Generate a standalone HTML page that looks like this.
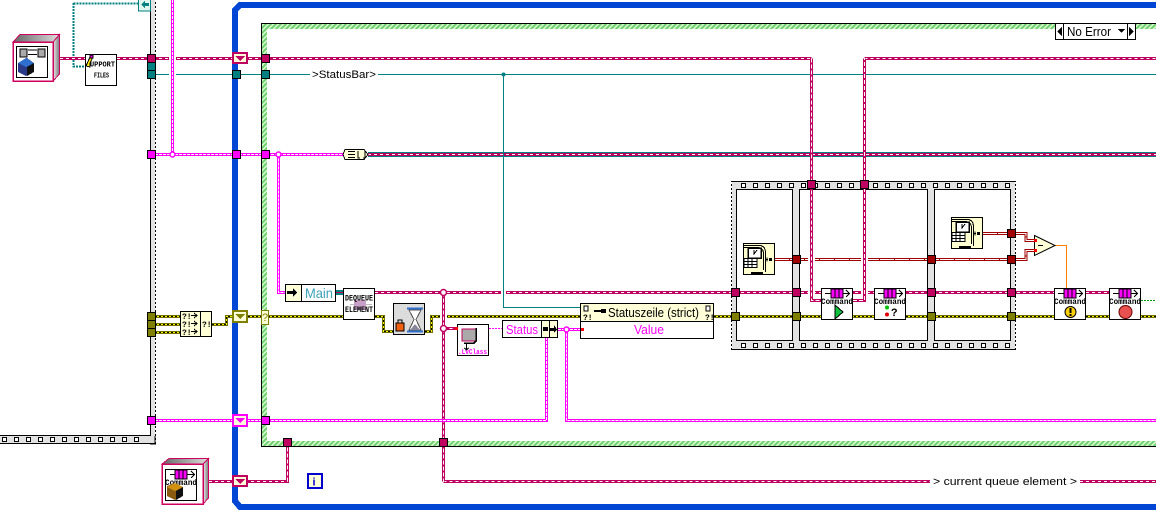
<!DOCTYPE html>
<html><head><meta charset="utf-8"><style>
html,body{margin:0;padding:0;background:#fff;width:1156px;height:519px;overflow:hidden}
svg{display:block}
text{font-family:"Liberation Sans",sans-serif}
.m{font-family:"Liberation Mono",monospace;font-weight:bold}
.p{fill:none;stroke:#c00060;stroke-width:3}.pi{fill:none;stroke:#fff;stroke-width:1;stroke-dasharray:3 3}
.pv{fill:none;stroke:#fff;stroke-width:1;stroke-dasharray:4 2}
.g{fill:none;stroke:#ff00ff;stroke-width:3}.gi{fill:none;stroke:#fff;stroke-width:1;stroke-dasharray:3 1}
.y{fill:none;stroke:#707000;stroke-width:3}.yi{fill:none;stroke:#ffff00;stroke-width:1}.yd{fill:none;stroke:#000;stroke-width:1;stroke-dasharray:2 2}
.r{fill:none;stroke:#a00000;stroke-width:3}.ri{fill:none;stroke:#fff;stroke-width:1;stroke-dasharray:14 1}
.t{fill:none;stroke:#008080;stroke-width:1}
.b{stroke:#000;stroke-width:1}
</style></head><body>
<svg width="1156" height="519" viewBox="0 0 1156 519" xmlns="http://www.w3.org/2000/svg" shape-rendering="crispEdges">
<defs>
<pattern id="h" width="5" height="5" patternUnits="userSpaceOnUse"><rect width="5" height="5" fill="#d8f8d0"/><path d="M0 5L5 0M-1 1L1 -1M4 6L6 4" stroke="#6fd06f" stroke-width="2" shape-rendering="auto"/></pattern>
<pattern id="fs" x="741" y="183" width="12" height="160" patternUnits="userSpaceOnUse"><rect x="0.5" y="0.5" width="4" height="4" fill="#fff" stroke="#000"/></pattern>
<pattern id="fl" x="2" y="437" width="12" height="8" patternUnits="userSpaceOnUse"><rect x="0.5" y="0.5" width="4" height="4" fill="#fff" stroke="#000"/></pattern>
<linearGradient id="sd" x1="0" x2="1" y1="0" y2="0"><stop offset="0" stop-color="#eee"/><stop offset="1" stop-color="#777"/></linearGradient>
<linearGradient id="tp" x1="0" x2="1" y1="0" y2="0"><stop offset="0" stop-color="#666"/><stop offset="1" stop-color="#ddd"/></linearGradient>
</defs>

<!-- left sequence frame -->
<rect x="150.5" y="-1" width="5" height="445" fill="#e2e2e2" stroke="#000"/>
<line x1="155.5" y1="0" x2="155.5" y2="444" stroke="#fff" stroke-dasharray="2 2"/>
<rect x="-2" y="435.5" width="157" height="8" fill="#e2e2e2" stroke="#000"/>
<rect x="0" y="437" width="146" height="5" fill="url(#fl)"/>
<rect x="151" y="432" width="4" height="4" fill="#e2e2e2"/>

<!-- while loop -->
<path d="M1156 5H240L235 10V501L240 507H1156" fill="none" stroke="#0046d5" stroke-width="6"/>

<!-- case structure -->
<rect x="261.5" y="23.5" width="900" height="423" fill="url(#h)" stroke="#000"/>
<rect x="267" y="29" width="900" height="412" fill="#fff"/>
<line x1="261" y1="23.5" x2="1156" y2="23.5" stroke="#000"/>

<!-- flat sequence frame -->
<rect x="731.5" y="181.5" width="284" height="168" fill="#e2e2e2" stroke="#000"/>
<path d="M731.5 182V349M1015.5 182V349" stroke="#fff" stroke-dasharray="2 2"/>
<rect x="741" y="183" width="270" height="5" fill="url(#fs)"/>
<rect x="741" y="343" width="270" height="5" fill="url(#fs)"/>
<rect x="736.5" y="189.5" width="56" height="151" fill="#fff" stroke="#000"/>
<rect x="799.5" y="189.5" width="128" height="151" fill="#fff" stroke="#000"/>
<rect x="934.5" y="189.5" width="76" height="151" fill="#fff" stroke="#000"/>

<!-- thin teal wires -->
<path class="t" d="M155 74.5H310M378 74.5H1156"/>
<path d="M73.5 3.5H138M73.5 3V66.5H85" fill="none" stroke="#008080" stroke-width="2" stroke-dasharray="2 1"/>
<rect x="368" y="152" width="788" height="5" fill="#008080"/>

<!-- dark red wires -->
<path class="r" d="M775 259.5H1011M1015 259.5H1026V250.5H1034M983 233.5H1011M1015 233.5H1026V240.5H1034"/>
<path class="ri" d="M775 259.5H1011M1015 259.5H1026V250.5H1034M983 233.5H1011M1015 233.5H1026V240.5H1034"/>
<rect x="808" y="256" width="7" height="7" fill="#fff"/><rect x="861" y="256" width="7" height="7" fill="#fff"/>

<!-- yellow wires -->
<path class="y" d="M155 316.5H180M155 324.5H180M155 332.5H180M212 324.5H226.5V316.5H343M375 316.5H383.5V331.5H393M425 331.5H431.5V316.5H580M714 316.5H1156"/>
<path class="yi" d="M155 316.5H180M155 324.5H180M155 332.5H180M212 324.5H226.5V316.5H343M375 316.5H383.5V331.5H393M425 331.5H431.5V316.5H580M714 316.5H1156"/>
<path class="yd" d="M155 316.5H180M155 324.5H180M155 332.5H180M212 324.5H226.5V316.5H343M375 316.5H383.5V331.5H393M425 331.5H431.5V316.5H580M714 316.5H1156"/>
<rect x="440" y="314" width="7" height="5" fill="#fff"/>

<!-- pink class wires -->
<path class="p" d="M60 58.5H85M117 58.5H811.5M864.5 58.5H1156M375 292.5H1054M1086 292.5H1109M443.5 328.5H457M209 481.5H287.5V441.5M443.5 481.5H930M1080 481.5H1156"/>
<path class="pi" d="M60 58.5H85M117 58.5H811.5M864.5 58.5H1156M375 292.5H1054M1086 292.5H1109M443.5 328.5H457M209 481.5H287.5M443.5 481.5H930M1080 481.5H1156"/>
<path d="M368 154.5H1156" fill="none" stroke="#c00060" stroke-width="3"/>
<path class="pi" d="M368 154.5H1156"/>
<rect x="808" y="289" width="7" height="7" fill="#fff"/><rect x="861" y="289" width="7" height="7" fill="#fff"/>
<rect x="501" y="290" width="5" height="5" fill="#fff"/>
<path class="p" d="M811.5 58.5V300.5H821M853 300.5H864.5V58.5M443.5 292.5V481.5"/>
<path class="pv" d="M811.5 58.5V300.5H821M853 300.5H864.5V58.5M443.5 292.5V481.5M287.5 481.5V441.5"/>
<circle cx="443.5" cy="292.5" r="3" fill="#fff" stroke="#c00060" stroke-width="1.5" shape-rendering="auto"/>
<circle cx="443.5" cy="328.5" r="3" fill="#fff" stroke="#c00060" stroke-width="1.5" shape-rendering="auto"/>
<path class="t" d="M503.5 74.5V307.5H580"/>
<circle cx="503.5" cy="74.5" r="2" fill="#008080" shape-rendering="auto"/>

<!-- magenta wires -->
<rect x="169" y="55" width="7" height="7" fill="#fff"/><rect x="169" y="72" width="7" height="5" fill="#fff"/>
<path class="g" d="M172.5 0V154.5M155 154.5H345M278.5 154.5V292.5H285M155 420.5H546.5V338M566.5 329.5V420.5H1156M558 329.5H581"/>
<path class="gi" d="M172.5 0V154.5M155 154.5H345M278.5 154.5V292.5H285M155 420.5H546.5V338M566.5 329.5V420.5H1156M558 329.5H581"/>
<path d="M489 328.5H502" stroke="#ff00ff" stroke-dasharray="2 1" fill="none"/>
<circle cx="172.5" cy="154.5" r="2.5" fill="#fff" stroke="#ff00ff" stroke-width="1.5" shape-rendering="auto"/>
<circle cx="278.5" cy="154.5" r="2.5" fill="#fff" stroke="#ff00ff" stroke-width="1.5" shape-rendering="auto"/>
<circle cx="566.5" cy="329.5" r="2.5" fill="#fff" stroke="#ff00ff" stroke-width="1.5" shape-rendering="auto"/>

<!-- orange and green -->
<path d="M1055 245.5H1066.5V288" fill="none" stroke="#ff8000"/>
<path d="M1141 300.5H1156" stroke="#00a000" stroke-dasharray="2 1" fill="none"/>

<!-- tunnels -->
<g class="b" fill="#c00060">
<rect x="147.5" y="54.5" width="8" height="8"/><rect x="261.5" y="54.5" width="8" height="8"/>
<rect x="807.5" y="180.5" width="8" height="8"/><rect x="860.5" y="180.5" width="8" height="8"/>
<rect x="731.5" y="288.5" width="8" height="8"/><rect x="792.5" y="288.5" width="8" height="8"/>
<rect x="927.5" y="288.5" width="8" height="8"/><rect x="1007.5" y="288.5" width="8" height="8"/>
<rect x="283.5" y="438.5" width="8" height="8"/><rect x="439.5" y="438.5" width="8" height="8"/>
</g>
<g class="b" fill="#008080">
<rect x="147.5" y="62.5" width="8" height="8"/><rect x="147.5" y="70.5" width="8" height="8"/>
<rect x="232.5" y="70.5" width="8" height="8"/><rect x="261.5" y="70.5" width="8" height="8"/>
</g>
<g class="b" fill="#ff00ff">
<rect x="147.5" y="150.5" width="8" height="8"/><rect x="232.5" y="150.5" width="8" height="8"/><rect x="261.5" y="150.5" width="8" height="8"/>
<rect x="147.5" y="416.5" width="8" height="8"/><rect x="261.5" y="416.5" width="8" height="8"/>
</g>
<g class="b" fill="#808000">
<rect x="147.5" y="312.5" width="8" height="8"/><rect x="147.5" y="320.5" width="8" height="8"/><rect x="147.5" y="328.5" width="8" height="8"/>
<rect x="731.5" y="312.5" width="8" height="8"/><rect x="792.5" y="312.5" width="8" height="8"/>
<rect x="927.5" y="312.5" width="8" height="8"/><rect x="1007.5" y="312.5" width="8" height="8"/>
</g>
<g class="b" fill="#a00000">
<rect x="792.5" y="255.5" width="8" height="8"/><rect x="927.5" y="255.5" width="8" height="8"/>
<rect x="1007.5" y="229.5" width="8" height="8"/><rect x="1007.5" y="255.5" width="8" height="8"/>
</g>

<!-- shift registers -->
<g fill="#ffffd8" stroke-width="2">
<rect x="233" y="53" width="14" height="10" stroke="#c00060"/><path d="M235 56H245L240 61Z" fill="#c00060" stroke="none"/>
<rect x="233" y="311" width="14" height="11" stroke="#808000"/><path d="M235 314H245L240 319Z" fill="#808000" stroke="none"/>
<rect x="233" y="415" width="14" height="11" stroke="#ff00ff"/><path d="M235 418H245L240 423Z" fill="#ff00ff" stroke="none"/>
<rect x="233" y="476" width="14" height="10" stroke="#c00060"/><path d="M235 479H245L240 484Z" fill="#c00060" stroke="none"/>
</g>
<rect x="261.5" y="310.5" width="7" height="14" fill="#ffffd8" stroke="#808000"/>
<text x="262" y="321" font-size="11" fill="#808000">?</text>

<!-- feedback node -->
<rect x="138.5" y="-2" width="12" height="13" fill="#e0f5ee" stroke="#008080"/>
<path d="M141 4.5L145 1V3H149V6H145V8Z" fill="#008080"/>

<!-- top left class icon -->
<path d="M13 42L20 34.5H59.5L53 42Z" fill="url(#tp)" stroke="#d0005f"/>
<path d="M53 42L59.5 34.5V74L53 81Z" fill="url(#sd)" stroke="#d0005f"/>
<rect x="13" y="42" width="40" height="39" fill="#fff" stroke="#d0005f" stroke-width="1.5"/>
<rect x="16.5" y="46.5" width="31" height="31" fill="#fff" stroke="#000"/>
<rect x="20" y="49" width="7" height="8" fill="#aaa" stroke="#000"/><rect x="38" y="49" width="7" height="8" fill="#aaa" stroke="#000"/>
<path d="M28 50H37M28 54.5H37" stroke="#000"/>
<path d="M18 63L27 58L34 63V72L26 76L18 72Z" fill="#2a3a88"/>
<path d="M18 63L26 58L34 63L26 67Z" fill="#2f6fd0"/><path d="M27 67L34 63V72L27 76Z" fill="#111"/>

<!-- support files -->
<rect x="85.5" y="54.5" width="31" height="31" fill="#fff" stroke="#000"/>
<path d="M86 66L90 57H93L90 63V67Z" fill="#ffe800" stroke="#000"/><path d="M90 55H93L93 58L90 58Z" fill="#ff00ff" stroke="#000"/>
<text class="m" x="90" y="66.5" font-size="7.5" textLength="25" lengthAdjust="spacingAndGlyphs">UPPORT</text>
<text class="m" x="94" y="77.5" font-size="7.5" textLength="15" lengthAdjust="spacingAndGlyphs">FILES</text>

<!-- array build small -->
<path d="M345 149.5H364L368 154.5L364 159.5H345L343 154.5Z" fill="#ffffd8" stroke="#000"/>
<path d="M348 151.5H355M348 154.5H355M348 157.5H355M358 151V158H360M365 151V158H363" fill="none" stroke="#000" stroke-width="1.2"/>

<!-- merge errors -->
<rect x="180.5" y="311.5" width="31" height="25" fill="#ffffd8" stroke="#000"/>
<line x1="200.5" y1="311" x2="200.5" y2="337" stroke="#000"/>
<text class="m" x="182" y="319" font-size="8">?!</text><text class="m" x="182" y="327" font-size="8">?!</text><text class="m" x="182" y="335" font-size="8">?!</text>
<text class="m" x="202" y="327" font-size="8">?!</text>
<path d="M191 315.5H197M194 313L197 315.5L194 318M191 323.5H197M194 321L197 323.5L194 326M191 331.5H197M194 329L197 331.5L194 334" fill="none" stroke="#000"/>

<!-- Main -->
<rect x="285.5" y="284.5" width="50" height="17" fill="#fff" stroke="#000"/>
<rect x="286" y="285" width="16" height="16" fill="#ffffd8"/>
<line x1="301.5" y1="285" x2="301.5" y2="301" stroke="#000"/>
<path d="M287 291H293V288L297 292.5L293 297V294H287Z" fill="#000"/>
<text x="305" y="298" font-size="14" fill="#3aa0b8" textLength="28" lengthAdjust="spacingAndGlyphs">Main</text>
<rect x="336" y="290" width="7" height="5" fill="#008080"/><rect x="336" y="292" width="7" height="1" fill="#c00060"/>

<!-- dequeue -->
<rect x="343.5" y="288.5" width="31" height="31" fill="#fff" stroke="#000"/>
<path d="M350 304.5H372" stroke="#bbb"/>
<rect x="354" y="300" width="12" height="10" fill="#c8a0c8"/>
<text class="m" x="345" y="300.5" font-size="8" textLength="28" lengthAdjust="spacingAndGlyphs">DEQUEUE</text>
<text class="m" x="345" y="312" font-size="8" textLength="28" lengthAdjust="spacingAndGlyphs">ELEMENT</text>

<!-- wait with lock -->
<rect x="393.5" y="303.5" width="31" height="31" fill="#dcdcdc" stroke="#000"/>
<path d="M407 308.5H423M407 331.5H423" stroke="#2f6fd0" stroke-width="2"/>
<path d="M409 310H421L416 319.5L421 330H409L414 319.5Z" fill="#fff" stroke="#555"/>
<path d="M410 330L415 324L420 330Z" fill="#889"/>
<rect x="396" y="323" width="8" height="8" fill="#f06010" stroke="#000"/>
<path d="M398 323V320H402V323" fill="none" stroke="#000"/>

<!-- class node -->
<rect x="457.5" y="324.5" width="31" height="31" fill="#fff" stroke="#000"/>
<path d="M462 329H476V341H462Z" fill="#aaa" stroke="#c00060"/><path d="M476 328V341L474 343H464" fill="none" stroke="#000" stroke-width="1.5"/>
<path d="M466.5 344V350M464.5 348L466.5 350L468.5 348" fill="none" stroke="#000"/>
<text class="m" x="458" y="354" font-size="7" fill="#ff00ff" textLength="29" lengthAdjust="spacingAndGlyphs">.LvClass</text>
<rect x="455" y="327" width="3" height="3" fill="#f00"/>

<!-- Status -->
<rect x="502.5" y="320.5" width="55" height="17" fill="#fff" stroke="#000"/>
<rect x="541" y="321" width="16" height="16" fill="#ffffd8"/>
<path d="M541.5 320V338M549.5 320V338" stroke="#000"/>
<text x="506" y="334" font-size="13" fill="#ff00ff" textLength="32" lengthAdjust="spacingAndGlyphs">Status</text>
<path d="M543 327H548V331H543ZM550 328H554V325L557 329.5L554 333V331H550Z" fill="#000"/>

<!-- property node -->
<rect x="580.5" y="303.5" width="133" height="35" fill="#fff" stroke="#000"/>
<rect x="581" y="304" width="132" height="18" fill="#ffffd8"/>
<line x1="580" y1="321.5" x2="714" y2="321.5" stroke="#000"/>
<text x="608" y="317" font-size="13" fill="#000" textLength="91" lengthAdjust="spacingAndGlyphs">Statuszeile (strict)</text>
<path d="M594 311H602" stroke="#000" stroke-width="2"/><rect x="601" y="309" width="5" height="4" fill="#000"/>
<rect x="584" y="306" width="4" height="5" fill="#fff" stroke="#000"/><rect x="706" y="306" width="4" height="5" fill="#fff" stroke="#000"/>
<text class="m" x="583" y="320" font-size="8">?!</text><text class="m" x="705" y="320" font-size="8">?!</text>
<text x="634" y="334" font-size="13" fill="#ff00ff" textLength="30" lengthAdjust="spacingAndGlyphs">Value</text>
<rect x="581" y="328" width="3" height="3" fill="#f00"/>

<!-- calendar icons -->
<g>
<rect x="743.5" y="243.5" width="31" height="31" fill="#ffffd0" stroke="#000"/>
<path d="M744 245.5H760Q765 246 765.5 252V272M744 247.5H758Q763 248 763.5 253V270" fill="none" stroke="#000"/>
<rect x="748" y="248" width="13" height="10" fill="#fff" stroke="#000" stroke-width="1.5"/>
<path d="M754 250V254L757 250" fill="none" stroke="#000"/>
<path d="M744 258.5H757V267.5H744ZM744 261.5H757M744 264.5H757M748 259V267M752 259V267" fill="#fff" stroke="#000"/>
<rect x="751" y="272" width="12" height="2" fill="#000"/>
<path d="M765 259.5H768M767 257.5V261.5" stroke="#000"/><rect x="769" y="258" width="3" height="3" fill="#000"/>
</g>
<g transform="translate(208,-26)">
<rect x="743.5" y="243.5" width="31" height="31" fill="#ffffd0" stroke="#000"/>
<path d="M744 245.5H760Q765 246 765.5 252V272M744 247.5H758Q763 248 763.5 253V270" fill="none" stroke="#000"/>
<rect x="748" y="248" width="13" height="10" fill="#fff" stroke="#000" stroke-width="1.5"/>
<path d="M754 250V254L757 250" fill="none" stroke="#000"/>
<path d="M744 258.5H757V267.5H744ZM744 261.5H757M744 264.5H757M748 259V267M752 259V267" fill="#fff" stroke="#000"/>
<rect x="751" y="272" width="12" height="2" fill="#000"/>
<path d="M765 259.5H768M767 257.5V261.5" stroke="#000"/><rect x="769" y="258" width="3" height="3" fill="#000"/>
</g>

<!-- command nodes -->
<g transform="translate(821,288)">
<rect x=".5" y=".5" width="31" height="31" fill="#fff" stroke="#000"/>
<path d="M4 5.5H28M25 2L28.5 5.5L25 9" fill="none" stroke="#000"/><rect x="10" y="1" width="12" height="9" fill="#ff00ff" stroke="#000"/><path d="M14 1V10M18 1V10" stroke="#000"/>
<text class="m" x="0" y="16" font-size="8" textLength="32" lengthAdjust="spacingAndGlyphs">Command</text>
<path d="M14 17L22 24L14 31Z" fill="#10c040" stroke="#000"/>
</g>
<g transform="translate(874,288)">
<rect x=".5" y=".5" width="31" height="31" fill="#fff" stroke="#000"/>
<path d="M4 5.5H28M25 2L28.5 5.5L25 9" fill="none" stroke="#000"/><rect x="10" y="1" width="12" height="9" fill="#ff00ff" stroke="#000"/><path d="M14 1V10M18 1V10" stroke="#000"/>
<text class="m" x="0" y="16" font-size="8" textLength="32" lengthAdjust="spacingAndGlyphs">Command</text>
<circle cx="13" cy="19.5" r="2" fill="#00c000" shape-rendering="auto"/><circle cx="13" cy="26.5" r="2" fill="#e00000" shape-rendering="auto"/>
<text class="m" x="17" y="28" font-size="11">?</text>
</g>
<g transform="translate(1054,288)">
<rect x=".5" y=".5" width="31" height="31" fill="#fff" stroke="#000"/>
<path d="M4 5.5H28M25 2L28.5 5.5L25 9" fill="none" stroke="#000"/><rect x="10" y="1" width="12" height="9" fill="#ff00ff" stroke="#000"/><path d="M14 1V10M18 1V10" stroke="#000"/>
<text class="m" x="0" y="16" font-size="8" textLength="32" lengthAdjust="spacingAndGlyphs">Command</text>
<circle cx="16.5" cy="24" r="5.5" fill="#ffd000" stroke="#000" shape-rendering="auto"/><rect x="15.5" y="20" width="2" height="5" fill="#000"/><rect x="15.5" y="26" width="2" height="2" fill="#000"/>
</g>
<g transform="translate(1109,288)">
<rect x=".5" y=".5" width="31" height="31" fill="#fff" stroke="#000"/>
<path d="M4 5.5H28M25 2L28.5 5.5L25 9" fill="none" stroke="#000"/><rect x="10" y="1" width="12" height="9" fill="#ff00ff" stroke="#000"/><path d="M14 1V10M18 1V10" stroke="#000"/>
<text class="m" x="0" y="16" font-size="8" textLength="32" lengthAdjust="spacingAndGlyphs">Command</text>
<circle cx="16.5" cy="24" r="6.5" fill="#e85050" stroke="#600" shape-rendering="auto"/>
</g>

<!-- subtract -->
<path d="M1034.5 235.5L1055 245.5L1034.5 255.5Z" fill="#ffffd8" stroke="#000" shape-rendering="auto"/>
<path d="M1038 245.5H1043" stroke="#000"/>
<rect x="1034" y="239" width="3" height="3" fill="#f00"/><rect x="1034" y="249" width="3" height="3" fill="#f00"/>

<!-- selector -->
<rect x="1055.5" y="23.5" width="80" height="16" fill="#fff" stroke="#000"/>
<path d="M1063.5 23V40M1127.5 23V40" stroke="#000"/>
<path d="M1057 31.5L1062 27V36Z" fill="#000"/><path d="M1134 31.5L1129 27V36Z" fill="#000"/>
<path d="M1118 29H1125L1121.5 33Z" fill="#000"/>
<text x="1067" y="36" font-size="13" fill="#000" textLength="44" lengthAdjust="spacingAndGlyphs">No Error</text>

<!-- labels -->
<text x="312" y="78" font-size="11" fill="#000" textLength="64" lengthAdjust="spacingAndGlyphs">&gt;StatusBar&gt;</text>
<text x="933" y="485" font-size="11" fill="#000" textLength="144" lengthAdjust="spacingAndGlyphs">&gt; current queue element &gt;</text>

<!-- bottom icon -->
<path d="M162 464L169 458.5H208.5L203 464Z" fill="url(#tp)" stroke="#d0005f"/>
<path d="M203 464L208.5 458.5V498L203 504Z" fill="url(#sd)" stroke="#d0005f"/>
<rect x="162" y="464" width="41" height="40" fill="#fff" stroke="#d0005f" stroke-width="1.5"/>
<rect x="165.5" y="469.5" width="31" height="31" fill="#fff" stroke="#000"/>
<path d="M170 474.5H194M191 471L194.5 474.5L191 478" fill="none" stroke="#000"/>
<rect x="175" y="470" width="12" height="9" fill="#ff00ff" stroke="#000"/><path d="M179 470V479M183 470V479" stroke="#000"/>
<text class="m" x="165" y="485" font-size="8" textLength="32" lengthAdjust="spacingAndGlyphs">Command</text>
<path d="M167 486L175 483L183 487V496L175 500L167 496Z" fill="#8a5a10"/>
<path d="M167 487L175 483L183 487L175 491Z" fill="#d09010"/><path d="M176 491L183 487V496L176 500Z" fill="#111"/>

<!-- i terminal -->
<rect x="308" y="474" width="14" height="14" fill="#ffffd8" stroke="#0000d0" stroke-width="2"/>
<text x="312.5" y="485.5" font-size="11" font-weight="bold" fill="#0000d0">i</text>
</svg>
</body></html>
